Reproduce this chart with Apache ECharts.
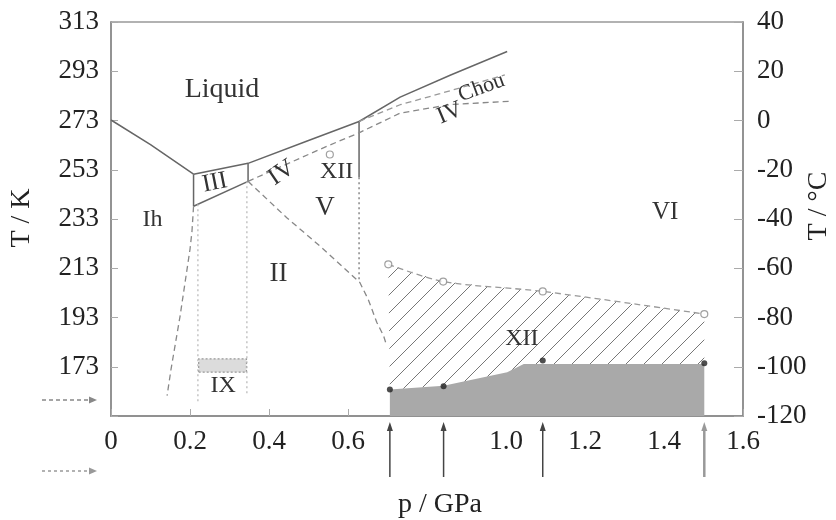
<!DOCTYPE html>
<html>
<head>
<meta charset="utf-8">
<script src="https://cdn.jsdelivr.net/npm/echarts@6/dist/echarts.min.js"></script>
<style>
html, body { margin: 0; background: #fff; }
#chart { width: 836px; height: 520px; }
</style>
</head>
<body>
<div id="chart"></div>
<script>
// phase boundaries, [p / GPa, T / K]
var meltIh = [[0, 273.2], [0.1, 263.2], [0.209, 251.2]]
var meltIII = [[0.209, 251.2], [0.347, 255.6]]
var meltV = [[0.347, 255.6], [0.495, 264.6], [0.628, 272.6]]
var meltVI = [[0.628, 272.6], [0.732, 282.5], [0.86, 291.5], [1.003, 301]]
var lineIhIII = [[0.209, 251.2], [0.209, 238.2]]
var lineIIIII = [[0.209, 238.2], [0.347, 248.3]]
var lineIIIV = [[0.347, 255.6], [0.347, 248.3]]
var lineVVI = [[0.628, 272.6], [0.628, 250]]
var lineVVIdot = [[0.628, 250], [0.628, 207.5]]
var lineIhII = [[0.209, 238.2], [0.205, 228], [0.2, 220.7], [0.175, 193.7], [0.152, 172], [0.142, 161.3]]
var lineIIV = [[0.347, 248.3], [0.445, 233.5], [0.529, 222], [0.63, 207.2], [0.651, 200.4], [0.673, 191], [0.69, 185.6], [0.698, 181.5]]
var lineIV = [[0.347, 248.3], [0.546, 262.5], [0.628, 268], [0.732, 276], [0.86, 279.5], [1.01, 280.8]]
var lineChou = [[0.628, 272.6], [0.732, 279.4], [0.833, 283.9], [0.997, 291.5]]
var lineIXa = [[0.22, 239], [0.22, 158.8]]
var lineIXb = [[0.344, 248.3], [0.344, 161]]
var boxIX = [[0.222, 170.8], [0.343, 176.2]]
// ice XII region
var openPts = [[0.702, 214.6], [0.841, 207.6], [1.093, 203.6], [1.502, 194.4]]
var fillPts = [[0.706, 163.8], [0.842, 165.1], [1.093, 175.5], [1.502, 174.4]]
var greyTop = [[0.706, 163.8], [0.842, 165.3], [1.003, 170.8], [1.045, 174.1], [1.502, 174.1]]
var xiiPoint = [[0.554, 259.2]]
var arrowP = [0.706, 0.842, 1.093, 1.502]
// region labels
var labelText = ['Liquid', 'Ih', 'III', 'IV', 'XII', 'V', 'II', 'IX', 'VI', 'XII', 'IV', 'Chou']
var labelPos = [[0.281, 285.5], [0.105, 232.8], [0.263, 247.7], [0.432, 251.7], [0.571, 252.4], [0.542, 237.6],
  [0.424, 210.6], [0.284, 165.4], [1.403, 235.5], [1.04, 184.3], [0.858, 276], [0.938, 286.2]]

var serif = 'Liberation Serif'
var labelRot = [0, 0, 0.2, 0.6, 0, 0, 0, 0, 0, 0, 0.4, 0.35]
var labelSize = [28, 24, 25, 25, 24, 27, 27, 24, 25, 24, 24, 22]

function hatch() {
  var c = document.createElement('canvas')
  c.width = 18
  c.height = 18
  var g = c.getContext('2d')
  g.strokeStyle = '#777'
  g.lineWidth = 1
  g.beginPath()
  g.moveTo(0, 18); g.lineTo(18, 0)
  g.moveTo(-4, 4); g.lineTo(4, -4)
  g.moveTo(14, 22); g.lineTo(22, 14)
  g.stroke()
  return c
}

function line(data, kind, color, width) {
  return {
    type: 'line',
    data: data,
    symbol: 'none',
    silent: true,
    lineStyle: {
      color: color || '#666',
      width: width || 1.5,
      type: kind === 'dash' ? [6, 4] : kind === 'dot' ? [2, 3] : 'solid'
    },
    z: 3
  }
}

function polygon(pts, style, z) {
  return {
    type: 'custom',
    data: [0],
    silent: true,
    z: z,
    renderItem: function(params, api) {
      return {
        type: 'polygon',
        shape: { points: pts.map(function(d) { return api.coord(d) }) },
        style: style
      }
    }
  }
}

var hatchPoly = openPts.concat([[1.502, 174.4]], greyTop.slice().reverse())
var greyPoly = [[0.706, 153]].concat(greyTop, [[1.502, 153]])
var ixPoly = [[boxIX[0][0], boxIX[0][1]], [boxIX[1][0], boxIX[0][1]], [boxIX[1][0], boxIX[1][1]], [boxIX[0][0], boxIX[1][1]]]

var myChart = echarts.init(document.getElementById('chart'))
var axisText = { fontFamily: serif, fontSize: 27, color: '#222' }
var option = {
  animation: false,
  grid: { left: 111, right: 93, top: 22, bottom: 104, show: true, borderColor: '#999', borderWidth: 1.5 },
  xAxis: {
    type: 'value', min: 0, max: 1.6, interval: 0.2,
    axisLine: { show: true, onZero: false, lineStyle: { color: '#888', width: 1.5 } },
    axisTick: { show: true, inside: true, length: 7, lineStyle: { color: '#aaa' } },
    splitLine: { show: false },
    axisLabel: Object.assign({
      margin: 12,
      formatter: function(v) {
        if (v === 0) return '0'
        if (Math.abs(v - 0.8) < 1e-6) return ''
        return v.toFixed(1)
      }
    }, axisText)
  },
  yAxis: [{
    type: 'value', min: 153, max: 313, interval: 20, position: 'left',
    axisLine: { show: true, onZero: false, lineStyle: { color: '#888', width: 1.5 } },
    axisTick: { show: true, inside: true, length: 7, lineStyle: { color: '#aaa' } },
    splitLine: { show: false },
    axisLabel: Object.assign({
      margin: 12,
      formatter: function(v) { return v === 153 ? '' : String(v) }
    }, axisText)
  }, {
    type: 'value', min: -120, max: 40, interval: 20, position: 'right',
    axisLine: { show: true, onZero: false, lineStyle: { color: '#888', width: 1.5 } },
    axisTick: { show: true, inside: true, length: 9, lineStyle: { color: '#aaa' } },
    splitLine: { show: false },
    axisLabel: Object.assign({ margin: 14 }, axisText)
  }],
  graphic: [
    { type: 'text', x: 22, y: 218, rotation: Math.PI / 2,
      style: { text: 'T / K', font: '28px ' + serif, fill: '#222', textAlign: 'center', textVerticalAlign: 'middle' } },
    { type: 'text', x: 819, y: 206, rotation: Math.PI / 2,
      style: { text: 'T / °C', font: '28px ' + serif, fill: '#222', textAlign: 'center', textVerticalAlign: 'middle' } },
    { type: 'text', x: 440, y: 505,
      style: { text: 'p / GPa', font: '28px ' + serif, fill: '#222', textAlign: 'center', textVerticalAlign: 'middle' } },
    { type: 'line', shape: { x1: 42, y1: 400, x2: 91, y2: 400 }, style: { stroke: '#888', lineWidth: 1.5, lineDash: [4, 3] } },
    { type: 'polygon', shape: { points: [[89, 396.5], [97, 400], [89, 403.5]] }, style: { fill: '#888' } },
    { type: 'line', shape: { x1: 42, y1: 471, x2: 91, y2: 471 }, style: { stroke: '#999', lineWidth: 1.5, lineDash: [3, 3] } },
    { type: 'polygon', shape: { points: [[89, 467.5], [97, 471], [89, 474.5]] }, style: { fill: '#999' } }
  ],
  series: [
    polygon(greyPoly, { fill: '#a9a9a9' }, 1),
    polygon(hatchPoly, { fill: { image: hatch(), repeat: 'repeat' } }, 1),
    polygon(ixPoly, { fill: '#dcdcdc', stroke: '#999', lineWidth: 1.2, lineDash: [2, 2] }, 1),
    line(meltIh), line(meltIII), line(meltV), line(meltVI),
    line(lineIhIII), line(lineIIIII), line(lineIIIV), line(lineVVI),
    line(lineVVIdot, 'dot', '#888'),
    line(lineIhII, 'dash', '#888', 1.3),
    line(lineIIV, 'dash', '#888', 1.3),
    line(lineIV, 'dash', '#888', 1.3),
    line(lineChou, 'dash', '#999', 1.3),
    line(lineIXa, 'dot', '#bbb', 1.3),
    line(lineIXb, 'dot', '#bbb', 1.3),
    Object.assign(line(openPts, 'dash', '#999', 1.3), { smooth: 0.3 }),
    {
      type: 'scatter', data: openPts.concat(xiiPoint), symbolSize: 7, silent: true, z: 5,
      itemStyle: { color: '#fff', borderColor: '#888', borderWidth: 1.2 }
    },
    {
      type: 'scatter', data: fillPts, symbolSize: 6, silent: true, z: 5,
      itemStyle: { color: '#222' }
    },
    {
      type: 'custom', data: arrowP.map(function(p) { return [p, 153] }), silent: true, clip: false, z: 5,
      renderItem: function(params, api) {
        var pt = api.coord([api.value(0), api.value(1)])
        var col = params.dataIndex === 3 ? '#999' : '#444'
        var w = params.dataIndex === 3 ? 2.5 : 1.5
        return {
          type: 'group',
          children: [
            { type: 'line', shape: { x1: pt[0], y1: pt[1] + 61, x2: pt[0], y2: pt[1] + 11 }, style: { stroke: col, lineWidth: w } },
            { type: 'polygon', shape: { points: [[pt[0] - 3, pt[1] + 15], [pt[0], pt[1] + 6], [pt[0] + 3, pt[1] + 15]] }, style: { fill: col } }
          ]
        }
      }
    },
    {
      type: 'custom', data: labelPos, silent: true, z: 6,
      renderItem: function(params, api) {
        var pt = api.coord([api.value(0), api.value(1)])
        var i = params.dataIndex
        return {
          type: 'text', x: pt[0], y: pt[1], rotation: labelRot[i],
          style: {
            text: labelText[i], font: labelSize[i] + 'px ' + serif, fill: '#333',
            textAlign: 'center', textVerticalAlign: 'middle'
          }
        }
      }
    }
  ]
}
myChart.setOption(option)
</script>
</body>
</html>
